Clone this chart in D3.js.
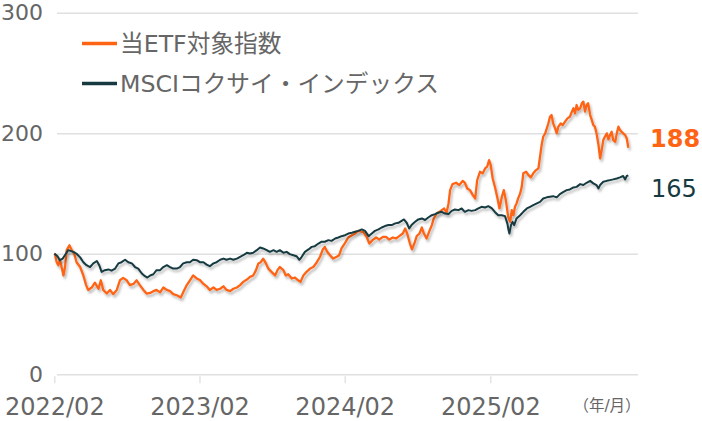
<!DOCTYPE html>
<html>
<head>
<meta charset="utf-8">
<script src="https://cdn.jsdelivr.net/npm/d3@7"></script>
<style>
  html, body { margin: 0; padding: 0; background: #fff; }
  svg { display: block; }
  text { font-family: "DejaVu Sans", "Noto Sans CJK JP", sans-serif; }
</style>
</head>
<body>
<svg id="chart" width="702" height="421"></svg>
<script>
// ---- data ----
const startDate = "2022-02-01";           // day 0 of the series
const seriesNames = ["当ETF対象指数", "MSCIコクサイ・インデックス"];
const seriesColors = ["#FF6414", "#163A40"];
const xTickLabels = ["2022/02", "2023/02", "2024/02", "2025/02"];
const xTickMonths = [0, 12, 24, 36];
const yTicks = [0, 100, 200, 300];
const endLabels = ["188", "165"];
const unitLabel = "（年/月）";

// [days since startDate, value]
const etfSeries = [
[0,100],[2,99],[6,93],[10,90.5],[14,95],[19,88],[23,82],[27,89],[31,103],[38,107],[44,103],[50,100],[56,93],[65,89],[73,82],[80,74],[85,70],[94,72],[102,76],[111,71],[117,78],[123,70],[132,67],[140,70],[148,66.5],[157,70],[165,78],[173,80],[182,78],[190,74],[199,75],[207,78],[215,74],[224,70],[232,67],[241,67.5],[249,69],[257,70],[266,68],[274,72],[283,70],[291,69],[299,66.5],[308,65.6],[318,63.7],[324,68],[333,74],[341,78],[349,82],[358,79.5],[366,78.3],[375,75],[383,73],[391,70],[400,72],[408,70],[417,71],[425,73],[433,70],[442,69],[450,71],[459,72],[467,74],[475,76.7],[484,78.6],[492,80.8],[500,82],[507,86.4],[513,92],[519,93],[525,96],[532,92],[538,87.7],[546,85],[555,82],[561,86.4],[567,89],[576,86.4],[582,82],[588,83],[597,79.5],[605,80.3],[613,78],[619,76.7],[626,82],[634,85],[643,87.7],[651,89],[660,93],[668,97.5],[675,103.6],[680,105.7],[686,101.6],[693,98.8],[701,96],[710,97.5],[716,98.8],[722,104.4],[731,109],[739,113.5],[748,115.4],[756,116.8],[764,119],[777,118],[785,114],[792,108.5],[800,111.3],[809,113.5],[817,111.8],[826,114],[834,114],[842,111.8],[851,113.5],[859,112.7],[867,114.6],[876,116.8],[882,121],[887,116.8],[894,108.5],[899,103.6],[905,108.5],[911,114.6],[918,116.8],[924,121.8],[929,116.8],[936,112.7],[943,119],[949,123.8],[954,129.3],[961,133.5],[968,134.8],[974,136.2],[980,137.6],[986,134],[991,141.8],[995,152.8],[1001,157.8],[1010,158.9],[1018,157],[1027,160.5],[1032,158.9],[1038,154.2],[1045,152.8],[1052,148.7],[1058,145.9],[1063,161],[1070,168],[1077,166.7],[1083,170.8],[1088,172.2],[1093,177.7],[1097,173.6],[1102,162.5],[1108,155],[1114,146],[1119,137.6],[1125,147.3],[1130,152.8],[1135,144.5],[1141,130.6],[1146,126.5],[1150,136.2],[1154,132],[1158,139],[1162,141.8],[1166,145.9],[1171,150],[1175,155.5],[1179,166.7],[1186,168],[1192,165.3],[1198,163.4],[1204,166.7],[1211,169.4],[1217,170.8],[1221,180.5],[1225,190.2],[1229,197.1],[1234,199.9],[1238,204],[1242,208.2],[1246,213.7],[1250,215.1],[1254,208.2],[1259,204],[1263,199.9],[1267,205.4],[1273,208.2],[1278,206.8],[1284,209.6],[1290,212.3],[1296,213.7],[1301,217.9],[1305,220.7],[1309,216.5],[1313,223.4],[1317,219.3],[1322,220.7],[1326,224.8],[1330,226.2],[1334,217.9],[1338,223.4],[1342,224.8],[1347,215.1],[1351,211],[1355,206.8],[1359,205.4],[1363,199.9],[1368,190.2],[1372,179.1],[1376,186],[1380,194.3],[1384,197.1],[1389,199.9],[1393,194.9],[1397,198.5],[1401,201.3],[1405,194.3],[1410,192.9],[1414,199.9],[1418,205.4],[1422,202.7],[1426,201.3],[1430,199.9],[1435,198.5],[1439,195.7],[1443,188]
];

const msciSeries = [
[0,100],[2,99.7],[8,98],[14,94.7],[21,96],[27,99],[35,103],[41,102.4],[48,101.6],[56,100],[65,97],[73,93],[81,90.5],[90,89],[98,92],[107,94],[113,90.5],[119,85],[127,86.4],[136,87],[144,86],[153,87.7],[161,92],[169,93],[178,95],[186,93],[195,92],[203,89],[211,87.7],[220,83.6],[228,81.4],[234,80.3],[241,82],[249,83],[257,86.4],[266,86.4],[274,89],[283,90.5],[291,89],[299,87.7],[308,87.7],[316,89],[324,92],[333,93],[341,93],[349,95],[358,94.7],[366,93],[375,93],[383,91],[391,89.7],[400,92],[408,93],[417,95],[425,96],[433,95],[442,96],[450,95],[459,96],[467,97.5],[475,98.8],[484,100.8],[492,100.2],[500,100.8],[509,103],[517,105.2],[525,104.4],[534,103],[542,101.6],[551,103],[559,101.6],[567,103],[576,100.8],[584,101.6],[592,99.7],[601,98.8],[609,98],[616,95],[622,97.5],[630,101.6],[639,103.6],[647,105.7],[655,106.3],[664,108.5],[672,110],[680,110],[689,111.3],[697,110.7],[706,112.7],[714,113.5],[722,114.6],[731,115.4],[739,116.8],[748,117.4],[756,118.2],[764,119],[773,120.2],[781,119],[790,114.6],[798,116.8],[806,119],[815,120.2],[823,121.8],[831,123],[840,123.8],[848,123.8],[857,125.2],[865,125.7],[873,127.3],[879,128.5],[886,125.7],[892,121],[898,123.8],[907,126.5],[915,128.5],[924,129.3],[932,128],[940,130.1],[949,132],[957,132.9],[965,134],[974,134.8],[982,133.4],[991,132.9],[999,135.6],[1007,136.7],[1016,136.2],[1024,137.6],[1032,134.8],[1041,136.2],[1049,135.6],[1058,136.2],[1066,137.6],[1074,139],[1083,138.4],[1091,139.5],[1100,137.6],[1108,134.5],[1116,132],[1125,132],[1133,131.2],[1139,125],[1141,121],[1144,116.8],[1148,123.8],[1152,126.5],[1156,123.8],[1162,129.3],[1171,132],[1179,134.8],[1188,137.6],[1196,139],[1204,140.4],[1213,141.8],[1221,143.1],[1229,145.9],[1238,146.8],[1246,147.3],[1254,147.8],[1263,146.8],[1271,149.5],[1280,151.3],[1288,152.8],[1296,153.4],[1305,155],[1313,155.5],[1322,157.8],[1330,157],[1338,158.9],[1347,160.5],[1355,158.4],[1363,157],[1368,154.2],[1372,157],[1380,159.7],[1389,160.5],[1397,161.1],[1405,161.7],[1414,162.5],[1422,163.4],[1430,164.5],[1435,161.7],[1439,164.5],[1443,165]
];

// ---- drawing ----
const svg = d3.select("#chart");
const parse = d3.timeParse("%Y-%m-%d");
const t0 = parse(startDate);
const toDate = d => d3.timeDay.offset(t0, d);

const x = d3.scaleTime()
  .domain([t0, d3.timeMonth.offset(t0, 48)])
  .range([54.3, 635.5]);
const y = d3.scaleLinear().domain([0, 300]).range([374.3, 12.7]);

const gridLeft = 57, gridRight = 638;

// defs: soft drop shadow
const defs = svg.append("defs");
const f = defs.append("filter").attr("id", "shadow")
  .attr("x", "-5%").attr("y", "-10%").attr("width", "110%").attr("height", "130%");
f.append("feDropShadow").attr("dx", 1.5).attr("dy", 2.5)
  .attr("stdDeviation", 1.3).attr("flood-color", "#000").attr("flood-opacity", 0.28);

// y axis with gridlines
const yAxis = d3.axisLeft(y).tickValues(yTicks)
  .tickSize(-(gridRight - gridLeft)).tickPadding(14);
const gy = svg.append("g").attr("transform", `translate(${gridLeft},0)`).call(yAxis);
gy.select(".domain").remove();
gy.selectAll(".tick line").attr("stroke", "#e0e0e0").attr("stroke-width", 1.5);
gy.selectAll(".tick text").attr("fill", "#666666").attr("font-size", 22)
  .attr("font-family", "DejaVu Sans, sans-serif");

// x axis
const xTickDates = xTickMonths.map(m => d3.timeMonth.offset(t0, m));
const xAxis = d3.axisBottom(x).tickValues(xTickDates)
  .tickFormat((d, i) => xTickLabels[i]).tickSize(9).tickPadding(15);
const gx = svg.append("g").attr("transform", `translate(0,${y(0)})`).call(xAxis);
gx.select(".domain").remove();
gx.selectAll(".tick line").attr("stroke", "#dddddd").attr("stroke-width", 1.2).attr("y1", 2);
gx.selectAll(".tick text").attr("fill", "#666666").attr("font-size", 24)
  .attr("font-family", "DejaVu Sans, sans-serif");

svg.append("text").attr("x", 607).attr("y", 411).attr("text-anchor", "middle")
  .attr("fill", "#666666").attr("font-size", 15.5)
  .attr("font-family", "Noto Sans CJK JP, sans-serif").text(unitLabel);

// lines
const line = d3.line().x(d => x(toDate(d[0]))).y(d => y(d[1]));
const allSeries = [etfSeries, msciSeries];
allSeries.forEach((s, i) => {
  svg.append("path").datum(s)
    .attr("fill", "none")
    .attr("stroke", seriesColors[i])
    .attr("stroke-width", i === 0 ? 2.3 : 2)
    .attr("stroke-linejoin", "round")
    .attr("filter", "url(#shadow)")
    .attr("d", line);
});

// end labels
svg.append("text").attr("x", 650).attr("y", 139).attr("dominant-baseline", "central")
  .attr("fill", seriesColors[0]).attr("font-size", 24).attr("font-weight", "bold")
  .text(endLabels[0]);
svg.append("text").attr("x", 651).attr("y", 189).attr("dominant-baseline", "central")
  .attr("fill", seriesColors[1]).attr("font-size", 24)
  .text(endLabels[1]);

// legend
const legendY = [43.5, 83.5];
seriesNames.forEach((name, i) => {
  svg.append("line").attr("x1", 82).attr("x2", 117)
    .attr("y1", legendY[i]).attr("y2", legendY[i])
    .attr("stroke", seriesColors[i]).attr("stroke-width", 3.5);
  svg.append("text").attr("x", 120).attr("y", legendY[i])
    .attr("dominant-baseline", "central")
    .attr("fill", "#666666").attr("font-size", 23.7)
    .text(name);
});
</script>
</body>
</html>
